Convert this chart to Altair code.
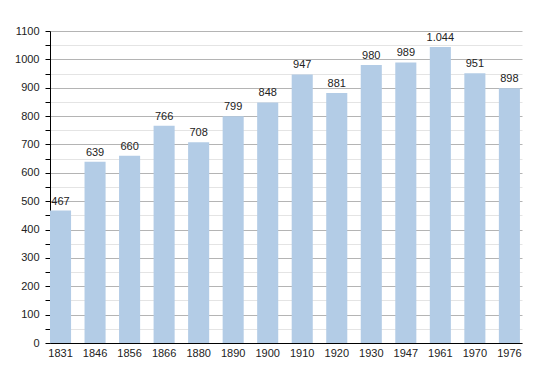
import altair as alt
import pandas as pd

years = ["1831", "1846", "1856", "1866", "1880", "1890", "1900", "1910",
         "1920", "1930", "1947", "1961", "1970", "1976"]
population = [467, 639, 660, 766, 708, 799, 848, 947, 881, 980, 989, 1044, 951, 898]
labels = ["467", "639", "660", "766", "708", "799", "848", "947", "881", "980",
          "989", "1.044", "951", "898"]
y_ticks = list(range(0, 1101, 50))

df = pd.DataFrame({"year": years, "pop": population, "label": labels})

FONT = "Liberation Sans"

x = alt.X("year:N", sort=years, title=None,
          scale=alt.Scale(paddingInner=0.39, paddingOuter=0.03, align=0),
          axis=alt.Axis(labelAngle=0, ticks=False, domainColor="#000000",
                        labelFont=FONT, labelFontSize=11, labelColor="#222222",
                        labelPadding=4, grid=False, labelOverlap=False))
y = alt.Y("pop:Q", title=None,
          scale=alt.Scale(domain=[0, 1100], nice=False),
          axis=alt.Axis(values=y_ticks,
                        labelExpr="datum.value % 100 === 0 ? datum.label : ''",
                        format="d", labelOverlap=False,
                        gridColor={"condition": {"test": "datum.value % 100 === 0", "value": "#b4b4b4"},
                                   "value": "#e4e4e4"},
                        gridOpacity=1,
                        domainColor="#000000", tickColor="#000000", tickSize=5,
                        labelFont=FONT, labelFontSize=11, labelColor="#222222",
                        labelPadding=6))

base = alt.Chart(df).encode(x=x, y=y)
bars = base.mark_bar(color="#b3cce6")
text = base.mark_text(baseline="bottom", dy=-4, font=FONT, fontSize=11,
                      color="#222222").encode(text="label:N")

chart = (bars + text).properties(
    width=472, height=312,
    autosize=alt.AutoSizeParams(type="none"),
    padding={"left": 42, "top": 23, "right": 20, "bottom": 30},
    background="#ffffff",
).configure_view(stroke=None)

chart.save("out.html", embed_options={"renderer": "svg", "actions": False})
